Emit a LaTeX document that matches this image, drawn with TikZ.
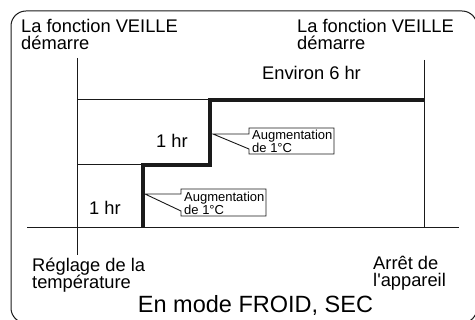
\documentclass[tikz,border=0pt]{standalone}
\usepackage{fontspec}
\setmainfont{Liberation Sans}
\usetikzlibrary{positioning,calc}
\definecolor{cInk}{HTML}{1A1A1A}
\tikzset{
  lbl/.style={font=\fontsize{18.3}{17.5}\selectfont,align=left,inner sep=0pt,text=black},
  big/.style={font=\fontsize{23.5}{24}\selectfont,inner sep=0pt,text=black},
  note/.style={font=\fontsize{13}{12}\selectfont,align=left,inner sep=0pt,text=black},
  thin/.style={line width=1pt,draw=cInk},
  heavy/.style={line width=3.6pt,draw=cInk,line join=miter},
  callout/.style={line width=0.9pt,draw=cInk,fill=white,line join=miter},
}
\begin{document}
\begin{tikzpicture}[x=1pt,y=-1pt]
  \useasboundingbox (0,0) rectangle (475,320);
  \begin{scope}
    \clip (0,0) rectangle (475,320);
    \draw[thin,rounded corners=15pt] (11,11) rectangle (477,323);
  \end{scope}
  % time axis and the two markers
  \coordinate (ax0) at (27,228);
  \coordinate (ax1) at (459,228);
  \coordinate (vl0) at (77,58);
  \coordinate (vl1) at (77,255);
  \coordinate (vr0) at (424,60);
  \draw[thin] (ax0) -- (ax1);
  \draw[thin] (vl0) -- (vl1);
  \draw[thin] (vr0) -- (vr0 |- ax0);
  % set point steps
  \coordinate (s0) at (143,228);
  \coordinate (s1) at (143,165);
  \coordinate (s2) at (210,165);
  \coordinate (s3) at (210,100);
  \draw[thin] (vl0 |- s1) -- (s1);
  \draw[thin] (vl0 |- s3) -- (s3);
  \draw[heavy] (s0) -- (s1) -- (s2) -- (s3) -- (s3 -| vr0);
  % callouts
  \draw[callout] (145,194) -- (181,194) -- (181,189) -- (266,189) -- (266,216)
     -- (181,216) -- (181,211) -- cycle;
  \node[note,anchor=base west] (upA) at (184,215) {Augmentation\\de 1°C};
  \draw[callout] (213,134) -- (249,134) -- (249,128) -- (334,128) -- (334,154)
     -- (249,154) -- (249,149) -- cycle;
  \node[note,anchor=base west] (upB) at (252,153) {Augmentation\\de 1°C};
  % labels
  \node[lbl,anchor=base west] (vstartA) at (21,50) {La fonction VEILLE\\démarre};
  \node[lbl,anchor=base west] (vstartB) at (297,50) {La fonction VEILLE\\démarre};
  \node[lbl,anchor=base] (hrA) at (105,215) {1 hr};
  \node[lbl,anchor=base] (hrB) at (172,148) {1 hr};
  \node[lbl,anchor=base west] (six) at (262,80) {Environ 6 hr};
  \node[lbl,anchor=base west] (setp) at (32,289) {Réglage de la\\température};
  \node[lbl,anchor=base west] (stop) at (373,287) {Arrêt de\\l\textquotesingle appareil};
  \node[big,anchor=base] (mode) at (255.5,313) {En mode FROID, SEC};
\end{tikzpicture}
\end{document}
